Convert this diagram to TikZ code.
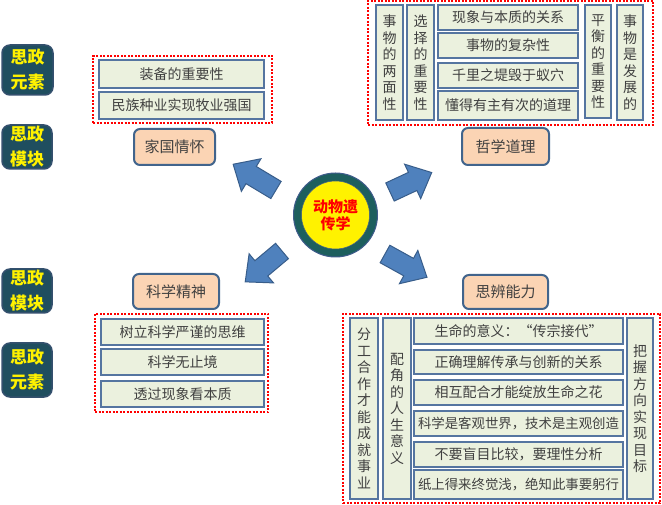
\documentclass[tikz,border=0pt]{standalone}
\usepackage{fontspec}
\setmainfont{Noto Sans CJK SC}
\definecolor{rowfill}{HTML}{EBF1DE}
\definecolor{rowline}{HTML}{5575A0}
\definecolor{peach}{HTML}{FBD4B4}
\definecolor{topicline}{HTML}{41648C}
\definecolor{tealfill}{HTML}{1F4E5F}
\definecolor{tealline}{HTML}{34506E}
\definecolor{arrowfill}{HTML}{4F81BD}
\definecolor{arrowline}{HTML}{385D8A}
\definecolor{ringfill}{HTML}{1D5F5E}
\definecolor{ringline}{HTML}{3F5B8C}
\definecolor{txt}{HTML}{404040}
\tikzset{
  span/.style n args={4}{at={({(#1+#3)/2},{(#2+#4)/2})}, anchor=center,
    minimum width={#3-#1}, minimum height={#4-#2}},
  rowbox/.style={draw=rowline, line width=1.5pt, fill=rowfill, inner sep=0pt,
    text=txt, align=center, font=\fontsize{14}{16.5}\selectfont},
  redbox/.style={draw=red, line width=2pt, dash pattern=on 2pt off 1.5pt, inner sep=0pt},
  topic/.style={draw=topicline, line width=2pt, fill=peach, rounded corners=6pt,
    inner sep=0pt, text=txt, font=\fontsize{15}{18}\selectfont},
  tag/.style={draw=tealline, line width=1.5pt, fill=tealfill, rounded corners=8pt,
    inner sep=0pt, text=yellow, align=center, font=\fontsize{17}{25}\selectfont\bfseries},
  arrowstyle/.style={draw=arrowline, fill=arrowfill, line width=1pt, line join=miter},
  pics/blockarrow/.style={code={
    \draw[arrowstyle] (0,-10) -- ({#1-21},-10) -- ({#1-21},-19) -- (#1,0)
      -- ({#1-21},19) -- ({#1-21},10) -- (0,10) -- cycle;}}
}
\begin{document}
\begin{tikzpicture}[x=1pt,y=-1pt]
\useasboundingbox (0,0) rectangle (662,505);
% tags
\node[tag, span={2}{45}{53}{95}] (l1) {思政\\元素};
\node[tag, span={2}{125}{52}{169}] (l2) {思政\\模块};
\node[tag, span={2}{269}{52}{313}] (l3) {思政\\模块};
\node[tag, span={2}{343}{52}{397}] (l4) {思政\\元素};
% top-left
\node[redbox, span={93}{56}{272}{123}] (red1) {};
\node[rowbox, span={99}{60}{264}{88}] (r11) {装备的重要性};
\node[rowbox, span={99}{92}{264}{119}] (r12) {民族种业实现牧业强国};
\node[topic, span={134}{129}{215}{165}] (t1) {家国情怀};
% top-right
\node[redbox, span={368}{1}{653}{125}] (red2) {};
\node[rowbox, span={376}{5}{403}{120}] (c21) {事\\物\\的\\两\\面\\性};
\node[rowbox, span={407}{5}{434}{120}] (c22) {选\\择\\的\\重\\要\\性};
\node[rowbox, span={438}{5}{578}{30}] (r21) {现象与本质的关系};
\node[rowbox, span={438}{33}{578}{58}] (r22) {事物的复杂性};
\node[rowbox, span={438}{63}{578}{88}] (r23) {千里之堤毁于蚁穴};
\node[rowbox, span={438}{91}{578}{120}] (r24) {懂得有主有次的道理};
\node[rowbox, span={585}{5}{611}{118}] (c23) {平\\衡\\的\\重\\要\\性};
\node[rowbox, span={617}{5}{643}{120}] (c24) {事\\物\\是\\发\\展\\的};
\node[topic, span={462}{128}{549}{165}] (t2) {哲学道理};
% bottom-left
\node[topic, span={133}{274}{219}{309}] (t3) {科学精神};
\node[redbox, span={95}{314}{268}{412}] (red3) {};
\node[rowbox, span={101}{319}{264}{345}] (r31) {树立科学严谨的思维};
\node[rowbox, span={101}{349}{264}{375}] (r32) {科学无止境};
\node[rowbox, span={101}{381}{264}{407}] (r33) {透过现象看本质};
% bottom-right
\node[topic, span={463}{275}{548}{309}] (t4) {思辨能力};
\node[redbox, span={343}{314}{660}{503}] (red4) {};
\node[rowbox, span={350}{318}{378}{499}] (c41) {分\\工\\合\\作\\才\\能\\成\\就\\事\\业};
\node[rowbox, span={383}{318}{411}{499}] (c42) {配\\角\\的\\人\\生\\意\\义};
\node[rowbox, span={414}{318}{623}{344}] (r41) {生命的意义：“传宗接代”};
\node[rowbox, span={414}{350}{623}{374}] (r42) {正确理解传承与创新的关系};
\node[rowbox, span={414}{380}{623}{405}] (r43) {相互配合才能绽放生命之花};
\node[rowbox, span={414}{411}{623}{436}, font=\fontsize{13.4}{16}\selectfont] (r44) {科学是客观世界，技术是主观创造};
\node[rowbox, span={414}{442}{623}{467}] (r45) {不要盲目比较，要理性分析};
\node[rowbox, span={414}{470}{623}{499}, font=\fontsize{13.4}{16}\selectfont] (r46) {纸上得来终觉浅，绝知此事要躬行};
\node[rowbox, span={627}{318}{653}{499}] (c43) {把\\握\\方\\向\\实\\现\\目\\标};
% centre
\node[circle, minimum size=84pt, inner sep=0pt, fill=ringfill, draw=ringline, line width=1pt] (core) at (335.5,215) {};
\node[circle, minimum size=68pt, inner sep=0pt, fill=yellow, draw=ringline, line width=0.5pt,
  text=red, align=center, font=\fontsize{15}{17}\selectfont\bfseries] (corein) at (core) {动物遗\\传学};
% block arrows
\pic[rotate=149] (a1) at (276,190) {blockarrow=50};
\pic[rotate=25]  (a2) at (390,192) {blockarrow=46};
\pic[rotate=220] (a3) at (282,251) {blockarrow=48};
\pic[rotate=-29] (a4) at (385,254) {blockarrow=48};
\end{tikzpicture}
\end{document}
